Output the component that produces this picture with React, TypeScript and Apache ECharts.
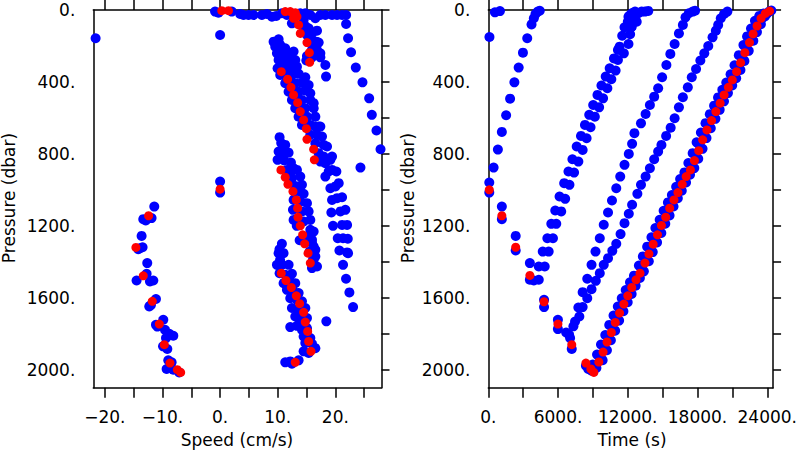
import React, { useEffect, useRef } from "react";
import * as echarts from "echarts";

// ---------- Left panel: speed (cm/s) vs pressure (dbar) ----------
const speedBlueMisc: number[][] = [
  [-21.6, 157], [0, 139], [0, 954], [0, 1015], [18.26, 306], [18.38, 370], [24.35, 876], [18.43, 1731],
];
const speedBlueSurface: number[][] = [
  [-0.87, 9], [-0.29, 15], [2.03, 9], [3.48, 22], [4.06, 28], [4.93, 28], [5.8, 28], [7.25, 28], [8.12, 22],
  [8.99, 37], [9.74, 33], [10.72, 18], [11.59, 28], [13.91, 18], [14.78, 18], [15.65, 28], [16.52, 46],
  [17.39, 28], [18.26, 28], [19.42, 28], [20.29, 28], [21.16, 28], [21.86, 28], [12.46, 74],
];
const speedBlueBranch: number[][] = [
  [14.49, 55], [14.78, 89], [15.36, 102], [14.49, 120], [15.07, 139], [15.94, 130], [16.81, 115],
  [15.94, 167], [16.7, 176], [16.23, 194], [17.1, 181], [15.94, 222], [16.81, 222], [17.39, 241],
  [15.07, 256], [15.94, 263], [14.96, 281], [17.39, 263],
];
const speedBlueFarRight: number[][] = [
  [21.86, 78], [22.2, 157], [22.72, 235], [23.54, 320], [24.7, 402], [25.86, 491], [26.32, 583],
  [27.13, 670], [27.83, 774],
];
const speedBlueBand1: number[][] = [
  [9.28, 176], [10.15, 163], [9.57, 204], [10.43, 194], [11.3, 213], [9.86, 241], [10.72, 231], [11.88, 250],
  [12.75, 231], [10.15, 278], [11.01, 274], [12.06, 287], [13.04, 278], [9.97, 324], [11.01, 315], [12.17, 324],
  [13.33, 315], [10.43, 361], [12.46, 361], [13.62, 355], [14.78, 374], [11.3, 407], [13.04, 407], [14.2, 404],
  [15.36, 417], [11.88, 454], [13.62, 454], [14.78, 448], [15.65, 463], [12.46, 500], [14.2, 500], [15.65, 500],
  [16.23, 518], [13.04, 546], [14.78, 546], [16.23, 546], [13.62, 593], [15.07, 593], [16.52, 593], [14.2, 639],
  [15.65, 639], [17.1, 648], [16.52, 648], [17.39, 648], [15.65, 694], [16.81, 694], [17.68, 704], [16.52, 741],
  [17.97, 750], [18.55, 759], [17.1, 796], [17.97, 815], [19.13, 833], [17.39, 843], [18.26, 852], [19.42, 815],
  [10.9, 300], [11.6, 340], [12.0, 390], [12.6, 420], [13.2, 480], [13.5, 525], [14.0, 575], [14.6, 620],
];
const speedBlueBand2: number[][] = [
  [18.84, 898], [19.42, 889], [20.17, 898], [18.26, 926], [19.13, 991], [20.0, 981], [20.58, 963], [19.42, 1056],
  [20.29, 1046], [21.16, 1041], [19.3, 1126], [20.87, 1120], [21.74, 1111], [19.59, 1200], [21.16, 1195],
  [22.03, 1195], [20.41, 1269], [21.33, 1269], [22.15, 1272], [20.7, 1337], [22.03, 1348], [22.2, 1352],
  [21.33, 1417], [21.85, 1494], [22.43, 1570], [23.07, 1652],
];
const speedBlueBand3: number[][] = [
  [10.32, 707], [11.3, 750], [10.15, 787], [10.9, 793], [11.88, 793], [9.97, 833], [11.13, 837], [12.29, 848],
  [12.75, 880], [13.33, 889], [11.59, 889], [13.91, 926], [12.46, 935], [14.2, 972], [13.04, 978], [13.8, 1009],
  [14.49, 1022], [12.75, 1056], [13.91, 1065], [15.07, 1074], [14.2, 1120], [15.36, 1120], [12.64, 1111],
  [14.49, 1176], [15.65, 1167], [12.75, 1167], [15.65, 1222], [16.23, 1232], [15.07, 1259], [15.94, 1278],
  [16.23, 1315], [15.54, 1343], [16.52, 1370], [16.12, 1389], [15.94, 1296], [16.52, 1333], [16.23, 1389],
  [16.81, 1426], [15.94, 1435], [10.6, 740], [12.0, 910], [12.9, 1010], [13.3, 1200], [13.8, 1280],
];
const speedBlueBand4: number[][] = [
  [10.72, 1300], [10.15, 1352], [11.01, 1352], [9.86, 1417], [10.72, 1417], [11.88, 1417], [10.32, 1463],
  [11.3, 1472], [12.46, 1467], [11.01, 1519], [12.17, 1509], [13.04, 1519], [11.59, 1556], [12.75, 1565],
  [13.62, 1574], [12.17, 1602], [13.33, 1611], [14.2, 1620], [12.46, 1657], [13.62, 1667], [14.78, 1657],
  [13.04, 1704], [14.2, 1707], [15.07, 1713], [12.17, 1763], [13.33, 1756], [14.2, 1778], [15.07, 1769],
  [14.49, 1815], [15.65, 1824], [14.78, 1852], [15.94, 1856], [14.49, 1898], [16.52, 1880], [15.36, 1907],
  [11.3, 1959], [12.17, 1954], [13.62, 1948], [12.46, 1967], [10.3, 1330], [10.4, 1390], [13.9, 1730],
];
const speedBlueDescent: number[][] = [
  [-11.42, 1093], [-13.33, 1163], [-11.89, 1157], [-12.9, 1170], [-13.62, 1256], [-13.91, 1324], [-13.45, 1319],
  [-12.64, 1407], [-14.49, 1504], [-12.75, 1467], [-11.59, 1504], [-12.17, 1509], [-12.29, 1648], [-11.13, 1607],
  [-11.13, 1750], [-9.86, 1722], [-9.57, 1778], [-8.81, 1800], [-8.12, 1811], [-9.39, 1824], [-9.16, 1885],
  [-8.99, 1948], [-8.41, 1959], [-9.28, 1996], [-8.12, 2000], [-7.1, 2015], [-14.2, 1330], [-12.0, 1640],
  [-10.9, 1760], [-9.9, 1870],
];
const speedRed: number[][] = [
  [0, 996], [0.29, 4], [1.45, 4], [11.3, 9], [12.17, 9], [13.04, 15], [13.33, 37], [12.75, 46],
  [13.62, 83], [13.91, 130], [15.07, 181], [15.48, 237], [15.54, 291],
  [10.61, 343], [11.71, 385], [12.29, 430], [12.75, 472], [13.45, 515], [13.91, 565], [14.49, 611],
  [14.96, 660], [15.07, 719], [16.23, 774], [16.35, 833],
  [10.55, 889], [11.3, 930], [11.77, 969], [12.64, 1009], [13.22, 1056], [13.45, 1102], [13.51, 1152],
  [13.91, 1200], [14.32, 1250], [14.67, 1300], [15.25, 1352], [15.65, 1407],
  [10.61, 1463], [11.42, 1504], [12.35, 1543], [13.22, 1589], [13.8, 1633], [14.49, 1681], [14.78, 1735],
  [15.19, 1787], [15.36, 1843], [15.77, 1898], [13.04, 1959],
  [-12.41, 1144], [-14.61, 1320], [-13.33, 1478], [-11.77, 1620], [-10.55, 1746], [-9.68, 1861],
  [-8.7, 1963], [-7.42, 2000], [-6.84, 2015],
];

// ---------- Right panel: time (s) vs pressure (dbar) ----------
const timeBlueLineA: number[][] = [
  [100, 150], [570, 13], [1000, 6], [457, 876], [825, 776], [1166, 678], [1534, 585], [1875, 493], [2244, 402],
  [2613, 320], [2981, 237], [3350, 157], [3719, 80], [3917, 46], [4059, 22], [4258, 9], [4428, 4],
];
const timeBlueDescent: number[][] = [
  [85, 959], [85, 1015], [1166, 1093], [1166, 1163], [2357, 1256], [2357, 1337], [3577, 1407], [3577, 1500],
  [3917, 1504], [4343, 1500], [4797, 1611], [4797, 1652], [5988, 1722], [5988, 1774], [6697, 1793],
  [6953, 1806], [7038, 1824], [7180, 1885], [8399, 1978], [8598, 1996], [8882, 2006],
];
const timeBlueBandB: number[][] = [
  [4343, 1426], [4854, 1426], [4684, 1343], [5195, 1343], [5081, 1269], [5563, 1269], [5421, 1189], [5847, 1189],
  [5762, 1115], [6273, 1120], [6131, 1037], [6613, 1050], [6528, 963], [6982, 972], [6897, 898], [7379, 904],
  [7237, 830], [7748, 843], [7606, 759], [8117, 778], [7975, 700], [8457, 713], [8315, 639], [8797, 652],
  [8684, 583], [9166, 593], [9024, 528], [9535, 541], [9393, 472], [9875, 491], [9734, 420], [10244, 435],
  [10102, 370], [10585, 385], [10443, 324], [10954, 337], [10812, 269], [11152, 278], [11152, 222],
  [11663, 241], [11294, 204], [12060, 189], [11521, 143], [12202, 135], [11719, 96], [12287, 93],
  [12003, 65], [12429, 55], [12202, 28], [12514, 15], [12343, 18], [12627, 9], [12910, 18], [13194, 9],
  [13478, 9], [13761, 5], [12485, 55], [12768, 65], [12343, 93], [12059, 37],
];
const timeBlueLineC: number[][] = [
  [7748, 1654], [8117, 1569], [8514, 1494], [8882, 1417], [9223, 1343], [9592, 1269], [9932, 1194],
  [10301, 1126], [10641, 1059], [11010, 991], [11351, 926], [11719, 861], [12088, 800], [12372, 744],
  [12571, 685], [13137, 630], [13534, 578], [13903, 528], [14272, 482], [14612, 435], [14953, 374],
  [15322, 306], [15662, 244], [16031, 189], [16400, 130], [16740, 83], [16967, 41], [17251, 18],
  [17591, 9], [17790, 4],
];
const timeBlueLineD: number[][] = [
  [7322, 1759], [7464, 1732], [7833, 1704], [8117, 1652], [8514, 1602], [8882, 1552], [9251, 1506],
  [9592, 1463], [9932, 1417], [10301, 1380], [10670, 1339], [11010, 1300], [11379, 1246], [11719, 1185],
  [12088, 1133], [12372, 1083], [12825, 1022], [13137, 972], [13534, 926], [13903, 880], [14272, 830],
  [14612, 787], [14896, 750], [15300, 700], [15690, 654], [16031, 602], [16400, 541], [16740, 485],
  [17166, 430], [17506, 374], [17875, 328], [18244, 281], [18584, 241], [18925, 200], [19294, 152],
  [19577, 115], [19776, 83], [20003, 46], [20286, 22], [20570, 9],
];
const timeBlueBandE: number[][] = [
  [8990, 1971], [9837, 1947], [9356, 1916], [10206, 1892], [9696, 1860], [10546, 1836], [10065, 1807],
  [10915, 1783], [10405, 1751], [11255, 1727], [10774, 1699], [11624, 1675], [11143, 1649], [11993, 1625],
  [11482, 1603], [12332, 1579], [11823, 1557], [12673, 1533], [12192, 1514], [13042, 1490], [12532, 1477],
  [13382, 1453], [12958, 1421], [13808, 1397], [13298, 1370], [14148, 1346], [13667, 1316], [14517, 1292],
  [14036, 1264], [14886, 1240], [14376, 1212], [15226, 1188], [14745, 1166], [15595, 1142], [15085, 1116],
  [15935, 1092], [15454, 1070], [16304, 1046], [15795, 1029], [16645, 1005], [16163, 983], [17013, 959],
  [16504, 940], [17354, 916], [16873, 903], [17723, 879], [17213, 851], [18063, 827], [17582, 796],
  [18432, 772], [17922, 736], [18772, 712], [18291, 681], [19141, 657], [18688, 629], [19538, 605],
  [19057, 579], [19907, 555], [19426, 532], [20276, 508], [19766, 486], [20616, 462], [20135, 444],
  [20985, 420], [20475, 403], [21325, 379], [20844, 357], [21694, 333], [21185, 307], [22035, 283],
  [21554, 251], [22404, 227], [21951, 195], [22801, 171], [22263, 147], [23113, 123], [22603, 103],
  [23453, 79], [22944, 60], [23794, 36], [23313, 33], [24163, 9], [23682, 20], [24350, 3],
];
const timeBlueBandEWest: number[][] = [
  [9300, 1990], [9650, 1935], [10000, 1880], [10350, 1826], [10700, 1772], [11060, 1720], [11420, 1668],
  [11770, 1620], [12120, 1573], [12470, 1530], [12820, 1490], [13220, 1436], [13570, 1385], [13930, 1332],
  [14300, 1280], [14640, 1228], [15010, 1182], [15350, 1132], [15720, 1085], [16060, 1045], [16430, 998],
  [16770, 956], [17140, 917], [17480, 866], [17850, 811], [18190, 752], [18560, 697], [18950, 645],
  [19320, 595], [19690, 548], [20030, 502], [20400, 460], [20740, 419], [21110, 373], [21450, 323],
  [21820, 267], [22210, 211], [22530, 163], [22870, 119], [23210, 76], [23580, 45], [23950, 22],
];
const timeRed: number[][] = [
  [85, 1000], [1166, 1144], [2357, 1319], [3577, 1476], [4797, 1622], [5989, 1746], [7180, 1861],
  [8400, 1963], [8826, 1996], [9081, 2015],
  [9507, 1957], [9876, 1902], [10216, 1846], [10585, 1793], [10925, 1737], [11294, 1685], [11663, 1635],
  [12002, 1589], [12343, 1543], [12712, 1500], [13052, 1463], [13478, 1407], [13818, 1356], [14187, 1302],
  [14556, 1250], [14896, 1198], [15265, 1152], [15605, 1102], [15974, 1056], [16315, 1015], [16683, 969],
  [17024, 926], [17393, 889], [17733, 837], [18102, 782], [18442, 722], [18811, 667], [19208, 615],
  [19577, 565], [19946, 518], [20286, 472], [20655, 430], [20995, 389], [21364, 343], [21705, 293],
  [22074, 237], [22471, 181], [22783, 133], [23123, 89], [23464, 46], [23833, 19], [24202, 6],
];

// ---------- Axis ticks / labels ----------
const speedTicks = [-20, -15, -10, -5, 0, 5, 10, 15, 20, 25];
const speedLabels = [-20, -10, 0, 10, 20];
const timeTicks = [0, 3000, 6000, 9000, 12000, 15000, 18000, 21000, 24000];
const timeLabels = [0, 6000, 12000, 18000, 24000];
const pressureTicks = [0, 200, 400, 600, 800, 1000, 1200, 1400, 1600, 1800, 2000];
const pressureLabels = [0, 400, 800, 1200, 1600, 2000];

const FONT = "DejaVu Sans";
const BLUE = "#0000ff";
const RED = "#ff0000";

const fmt = (v: number) => (v < 0 ? "\u2212" + Math.abs(v) : String(v)) + ".";

export default function App() {
  const ref = useRef<HTMLDivElement>(null);
  useEffect(() => {
    if (!ref.current) return;
    const chart = echarts.init(ref.current, undefined, { renderer: "svg" });
    const line = { show: true, onZero: false, lineStyle: { color: "#000", width: 1.5 } };
    const labelStyle = { color: "#000", fontSize: 17, fontFamily: FONT };
    const xAx = (grid: number, min: number, max: number, ticks: number[], labels: number[], pos: string) => ({
      type: "value", gridIndex: grid, min, max, position: pos,
      axisLine: line,
      axisTick: { show: true, inside: false, length: 10, customValues: ticks, lineStyle: { color: "#000", width: 1.5 } },
      axisLabel: pos === "bottom"
        ? { show: true, customValues: labels, formatter: fmt, margin: 21, ...labelStyle }
        : { show: false },
      splitLine: { show: false },
    });
    const yAx = (grid: number, pos: string) => ({
      type: "value", gridIndex: grid, min: 0, max: 2100, inverse: true, position: pos,
      axisLine: line,
      axisTick: pos === "right"
        ? { show: true, inside: false, length: 8, customValues: pressureTicks, lineStyle: { color: "#000", width: 1.5 } }
        : { show: false },
      axisLabel: pos === "left"
        ? { show: true, customValues: pressureLabels, formatter: fmt, margin: 18, ...labelStyle }
        : { show: false },
      splitLine: { show: false },
    });
    const scatter = (xi: number, data: number[][], color: string, size: number) => ({
      type: "scatter", xAxisIndex: xi, yAxisIndex: xi, data, symbolSize: size,
      itemStyle: { color, opacity: 1 }, silent: true,
    });
    const speedBlue = [
      ...speedBlueMisc, ...speedBlueSurface, ...speedBlueBranch, ...speedBlueFarRight,
      ...speedBlueBand1, ...speedBlueBand2, ...speedBlueBand3, ...speedBlueBand4, ...speedBlueDescent,
    ];
    const timeBlue = [
      ...timeBlueLineA, ...timeBlueDescent, ...timeBlueBandB, ...timeBlueLineC, ...timeBlueLineD,
      ...timeBlueBandE, ...timeBlueBandEWest,
    ];
    chart.setOption({
      animation: false,
      backgroundColor: "#fff",
      grid: [
        { left: 93.3, right: 418.5, top: 10, bottom: 62.3 },
        { left: 488.3, right: 24.3, top: 10, bottom: 62.3 },
      ],
      xAxis: [
        xAx(0, -22, 28, speedTicks, speedLabels, "bottom"),
        xAx(0, -22, 28, speedTicks, speedLabels, "top"),
        xAx(1, 0, 24500, timeTicks, timeLabels, "bottom"),
        xAx(1, 0, 24500, timeTicks, timeLabels, "top"),
      ],
      yAxis: [yAx(0, "left"), yAx(0, "right"), yAx(1, "left"), yAx(1, "right")],
      series: [
        scatter(0, speedBlue, BLUE, 10),
        scatter(0, speedRed, RED, 9),
        scatter(2, timeBlue, BLUE, 10),
        scatter(2, timeRed, RED, 9),
      ],
      graphic: [
        { type: "text", x: 9, y: 198, rotation: Math.PI / 2, style: { text: "Pressure (dbar)", ...labelStyle, fill: "#000", align: "center", verticalAlign: "middle" } },
        { type: "text", x: 408, y: 198, rotation: Math.PI / 2, style: { text: "Pressure (dbar)", ...labelStyle, fill: "#000", align: "center", verticalAlign: "middle" } },
        { type: "text", x: 237, y: 439.5, style: { text: "Speed (cm/s)", ...labelStyle, fill: "#000", align: "center", verticalAlign: "middle" } },
        { type: "text", x: 632, y: 439.5, style: { text: "Time (s)", ...labelStyle, fill: "#000", align: "center", verticalAlign: "middle" } },
      ],
    });
    return () => chart.dispose();
  }, []);
  return <div ref={ref} style={{ position: "fixed", left: 0, top: 0, width: 800, height: 450 }} />;
}
